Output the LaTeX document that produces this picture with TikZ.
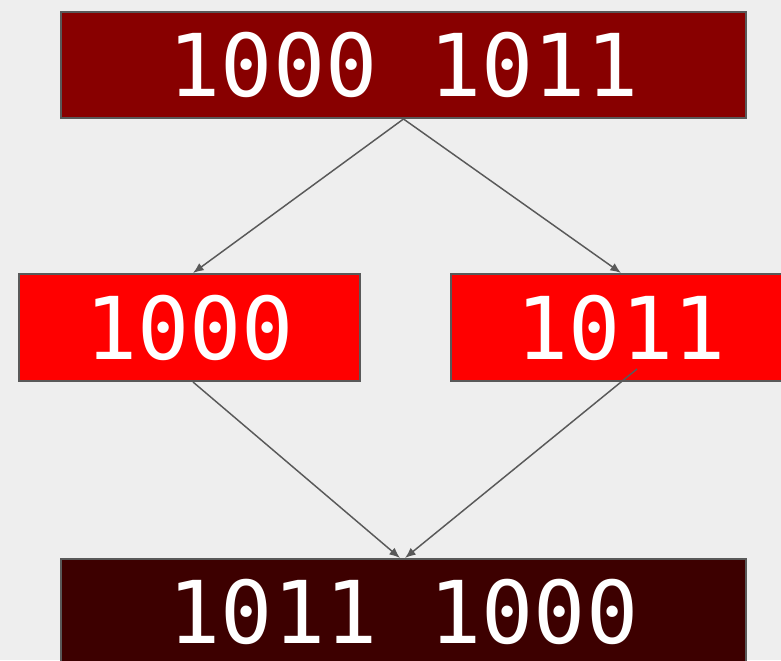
\documentclass[tikz,border=0pt]{standalone}
\usepackage{fontspec}
\setmonofont{DejaVu Sans Mono}
\usepackage{tikz}
\usetikzlibrary{arrows.meta}
\definecolor{paper}{HTML}{EEEEEE}
\definecolor{edge}{HTML}{595959}
\definecolor{darkred}{HTML}{880000}
\definecolor{brightred}{HTML}{FF0000}
\definecolor{deepred}{HTML}{3D0000}
\tikzset{
  byte/.style={draw=edge, line width=1.5pt, text=white,
    font=\ttfamily\fontsize{65}{70}\selectfont, inner sep=0pt},
  wide/.style={byte, minimum width=513.75pt, minimum height=79.5pt},
  half/.style={byte, minimum width=255.75pt, minimum height=80.25pt},
  link/.style={-{Latex[length=8pt,width=6.5pt]}, draw=edge, line width=1.1pt}
}

\begin{document}
\begin{tikzpicture}[x=0.75pt,y=-0.75pt]

% Page
\useasboundingbox (0,0) rectangle (781,660);
\fill[paper] (0,0) rectangle (781,660);
\clip (0,0) rectangle (781,660);

% Whole word
\node[wide, fill=darkred] (word) at (403.5,65) {1000 1011};

% Two halves
\node[half, fill=brightred] (hi) at (189.5,327.5) {1000};
\node[half, fill=brightred] (lo) at (621,327.5) {1011};
\coordinate (lofoot) at (637,369);

% Swapped word
\node[wide, fill=deepred] (swapped) at (403.5,612) {1011 1000};

% Split
\draw[link] (word.south) -- (hi.north -| 193,0);
\draw[link] (word.south) -- (lo.north);

% Join
\draw[link] (hi.south -| 193,0) -- (swapped.north -| 400,0);
\draw[link] (lofoot) -- (swapped.north -| 405,0);

\end{tikzpicture}
\end{document}
